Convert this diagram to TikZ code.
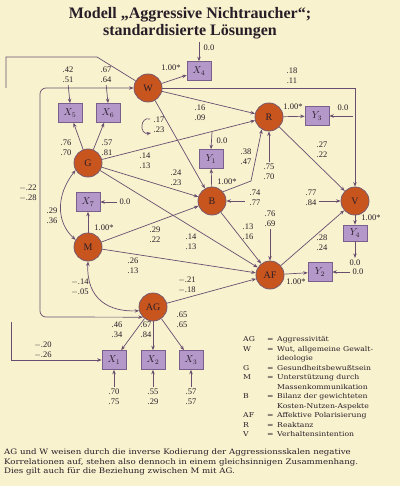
\documentclass[tikz,border=0pt]{standalone}
\usepackage{fontspec}
\setmainfont{Liberation Serif}
\newfontfamily\legfont[FakeStretch=1.15]{DejaVu Serif}
\usetikzlibrary{arrows.meta}
\definecolor{bg}{RGB}{248,242,206}
\definecolor{latfill}{RGB}{200,85,30}
\definecolor{latdraw}{RGB}{120,90,110}
\definecolor{boxfill}{RGB}{180,152,202}
\definecolor{boxdraw}{RGB}{120,95,140}
\definecolor{linec}{RGB}{105,78,112}
\definecolor{txt}{RGB}{40,30,40}
\tikzset{
  lat/.style={circle, fill=latfill, draw=latdraw, line width=0.8pt, minimum size=28pt, inner sep=0pt, font=\fontsize{10}{10}\selectfont, text=txt},
  obs/.style={rectangle, fill=boxfill, draw=boxdraw, line width=0.6pt, minimum width=24pt, minimum height=19pt, inner sep=0pt, font=\fontsize{10}{10}\selectfont, text=txt},
  lab/.style={font=\fontsize{8.5}{10}\selectfont, align=center, inner sep=0pt, text=txt},
  conn/.style={draw=linec, line width=0.7pt, -{Stealth[length=4.5pt,width=3.5pt]}},
  dconn/.style={draw=linec, line width=0.7pt, {Stealth[length=4.5pt,width=3.5pt]}-{Stealth[length=4.5pt,width=3.5pt]}},
  plainline/.style={draw=linec, line width=0.7pt},
  leg/.style={font=\legfont\fontsize{6.7}{9.5}\selectfont, inner sep=0pt, text=txt, align=left}
}
\begin{document}
\begin{tikzpicture}[x=1pt,y=-1pt]
\fill[bg] (0,0) rectangle (400,486);
\useasboundingbox (0,0) rectangle (400,486);

% title
\node[font=\bfseries\fontsize{16}{17}\selectfont, align=center, text=txt, inner sep=0pt] (title) at (190,23) {Modell „Aggressive Nichtraucher“;\\standardisierte Lösungen};

% latent variables
\node[lat] (W) at (148,88) {W};
\node[lat] (G) at (88,163) {G};
\node[lat] (M) at (88,247) {M};
\node[lat] (AG) at (153,307) {AG};
\node[lat] (B) at (212,201) {B};
\node[lat] (R) at (269,117) {R};
\node[lat] (V) at (355,201) {V};
\node[lat] (AF) at (270,275) {AF};

% observed
\node[obs] (X4) at (199,71) {$X_4$};
\node[obs] (X5) at (70,113) {$X_5$};
\node[obs] (X6) at (108,113) {$X_6$};
\node[obs] (X7) at (88,202) {$X_7$};
\node[obs] (X1) at (114,360) {$X_1$};
\node[obs] (X2) at (153,360) {$X_2$};
\node[obs] (X3) at (191,360) {$X_3$};
\node[obs] (Y1) at (211,159) {$Y_1$};
\node[obs] (Y2) at (320,272) {$Y_2$};
\node[obs] (Y3) at (317,116) {$Y_3$};
\node[obs, minimum height=16pt] (Y4) at (355,233) {$Y_4$};

% structural paths
\draw[conn] (W) -- (X4);
\draw[conn] (W) -- (R);
\draw[conn] (W) -- (B);
\draw[conn] (W.east) -| (V.north);
\draw[conn] (G) -- (R);
\draw[conn] (G) -- (B);
\draw[conn] (G) -- (AF);
\draw[conn] (G) -- (X5);
\draw[conn] (G) -- (X6);
\draw[conn] (M) -- (X7);
\draw[conn] (M) -- (B);
\draw[conn] (M) -- (AF);
\draw[conn] (AG) -- (AF);
\draw[conn] (AG) -- (X1);
\draw[conn] (AG) -- (X2);
\draw[conn] (AG) -- (X3);
\draw[conn] (B) -- (Y1);
\draw[conn] (B) -- (AF);
\draw[conn] (B.40) -- (251,181) -- (R.240);
\draw[conn] (R) -- (Y3);
\draw[conn] (R) -- (V);
\draw[conn] (AF) -- (Y2);
\draw[conn] (AF) -- (V);
\draw[conn] (V) -- (Y4);

% correlations
\draw[dconn] (G.210) .. controls (56,195) and (56,222) .. (M.150);
\draw[dconn] (M.south) .. controls (86,300) and (110,312) .. (AG.195);
\draw[dconn, rounded corners=6pt] (W.west) -- (40,88) -- (40,317) -- (AG.225);

% free lines at left edge
\coordinate (tl) at (6,88);
\draw[plainline] (tl) -- (6,57) -- (97,57) -- (W.150);
\coordinate (bl) at (11,322);
\draw[conn] (bl) |- (X1.west);

% error terms
\node[lab] (e4) at (209,48) {0.0};
\coordinate (c4) at (199,42);
\draw[conn] (c4) -- (X4.north);
\node[lab] (e5) at (68,75) {.42\\.51};
\draw[conn, shorten <=2pt] (e5.south) -- (X5.north);
\node[lab] (e6) at (106,75) {.67\\.64};
\draw[conn, shorten <=2pt] (e6.south) -- (X6.north);
\node[lab] (e7) at (125,202) {0.0};
\draw[conn, shorten <=2pt] (e7.west) -- (X7.east);
\node[lab] (eY1) at (222,141) {0.0};
\coordinate (cY1) at (212,132);
\draw[conn] (cY1) -- (Y1.north);
\node[lab] (eY3) at (343,108) {0.0};
\coordinate (cY3) at (353,116);
\draw[conn] (cY3) -- (Y3.east);
\node[lab] (eY2) at (358,272) {0.0};
\draw[conn, shorten <=2pt] (eY2.west) -- (Y2.east);
\node[lab] (eY4) at (355,263) {0.0};
\draw[conn, shorten >=2pt] (Y4.south) -- (eY4.north);
\node[lab] (e1) at (114,397) {.70\\.75};
\draw[conn, shorten <=2pt] (e1.north) -- (X1.south);
\node[lab] (e2) at (153,397) {.55\\.29};
\draw[conn, shorten <=2pt] (e2.north) -- (X2.south);
\node[lab] (e3) at (191,397) {.57\\.57};
\draw[conn, shorten <=2pt] (e3.north) -- (X3.south);
\node[lab] (eB) at (255,198) {.74\\.77};
\coordinate (cB) at (245,201);
\draw[conn] (cB) -- (B.east);
\node[lab] (eR) at (269,172) {.75\\.70};
\draw[conn, shorten <=2pt] (eR.north) -- (R.south);
\node[lab] (eAF) at (270,219) {.76\\.69};
\draw[conn, shorten <=2pt] (eAF.south) -- (AF.north);
\node[lab] (eV) at (311,198) {.77\\.84};
\coordinate (cV) at (319,201);
\draw[conn] (cV) -- (V.west);

% residual correlation symbol
\node[lab] (r17) at (159,125) {.17\\.23};
\coordinate (a1) at (150,119);
\coordinate (a2) at (151,133);
\draw[conn] (a1) .. controls (140,116) and (139,135) .. (a2);

% path coefficients
\node[lab] at (171,68) {1.00*};
\node[lab] at (104,228) {1.00*};
\node[lab] at (227,182) {1.00*};
\node[lab] at (293,107) {1.00*};
\node[lab] at (296,282) {1.00*};
\node[lab] at (371,218) {1.00*};
\node[lab] at (292,76) {.18\\.11};
\node[lab] at (200,113) {.16\\.09};
\node[lab] at (66,148) {.76\\.70};
\node[lab] at (107,148) {.57\\.81};
\node[lab] at (145,161) {.14\\.13};
\node[lab] at (176,178) {.24\\.23};
\node[lab] at (246,157) {.38\\.47};
\node[lab] at (322,150) {.27\\.22};
\node[lab] at (28,193) {$-$.22\\$-$.28};
\node[lab] at (52,216) {.29\\.36};
\node[lab] at (155,235) {.29\\.22};
\node[lab] at (191,242) {.14\\.13};
\node[lab] at (248,232) {.13\\.16};
\node[lab] at (322,243) {.28\\.24};
\node[lab] at (133,266) {.26\\.13};
\node[lab] at (80,287) {$-$.14\\$-$.05};
\node[lab] at (187,285) {$-$.21\\$-$.18};
\node[lab] at (117,330) {.46\\.34};
\node[lab] at (146,330) {.67\\.84};
\node[lab] at (182,320) {.65\\.65};
\node[lab] at (43,350) {$-$.20\\$-$.26};

% legend
\node[leg, anchor=north west] (legend) at (243,335) {%
\begin{tabular}{@{}p{24pt}@{}p{10pt}@{}l@{}}
AG & = & Aggressivität\\
W & = & Wut, allgemeine Gewalt-\\
 & & ideologie\\
G & = & Gesundheitsbewußtsein\\
M & = & Unterstützung durch\\
 & & Massenkommunikation\\
B & = & Bilanz der gewichteten\\
 & & Kosten-Nutzen-Aspekte\\
AF & = & Affektive Polarisierung\\
R & = & Reaktanz\\
V & = & Verhaltensintention
\end{tabular}};

% footnote
\node[leg, font=\legfont\fontsize{7.5}{9.2}\selectfont, anchor=north west] (note) at (4,449) {AG und W weisen durch die inverse Kodierung der Aggressionsskalen negative\\Korrelationen auf, stehen also dennoch in einem gleichsinnigen Zusammenhang.\\Dies gilt auch für die Beziehung zwischen M mit AG.};
\end{tikzpicture}
\end{document}
